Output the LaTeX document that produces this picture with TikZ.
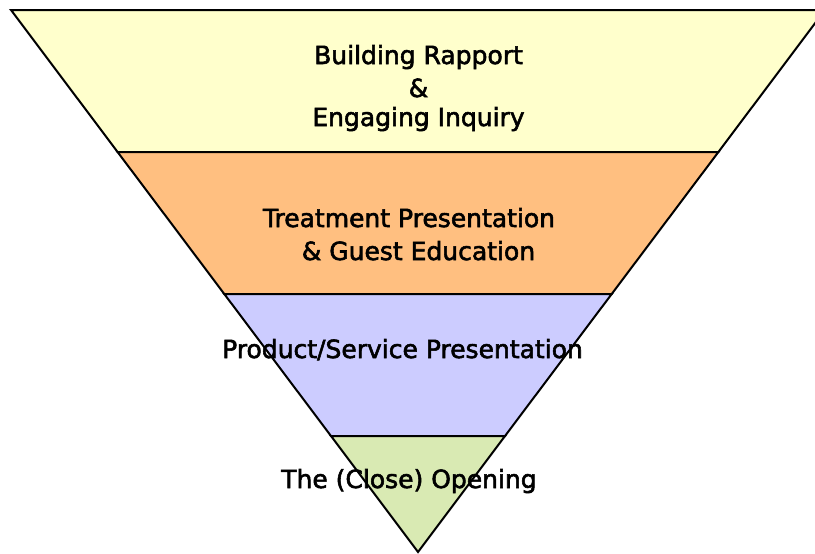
\documentclass[tikz,border=0pt]{standalone}
\usepackage{fontspec}
\setmainfont{DejaVu Sans}
\newfontfamily\funnelfont{DejaVu Sans}[FakeBold=2.2]
\definecolor{rapport}{HTML}{FFFFCC}
\definecolor{treatment}{HTML}{FFBF80}
\definecolor{product}{HTML}{CCCCFF}
\definecolor{closing}{HTML}{D9EAB3}

\begin{document}
\begin{tikzpicture}[x = 1pt, y = -1pt, line width = 2pt,
                        band/.style = {draw = black, line join = miter},
                        caption/.style = {anchor = base, inner sep = 0pt, font = \funnelfont\fontsize{25}{29}\selectfont}]
      \useasboundingbox (0, 0) rectangle (815, 554);
      \clip (0, 0) rectangle (815, 554);

      \coordinate (tl) at (11, 10);
      \coordinate (tr) at (825, 10);
      \coordinate (l1) at (117.6, 152);
      \coordinate (r1) at (718.4, 152);
      \coordinate (l2) at (224.3, 294);
      \coordinate (r2) at (611.7, 294);
      \coordinate (l3) at (331, 436);
      \coordinate (r3) at (505, 436);
      \coordinate (apex) at (418, 552);

      \filldraw [band, fill = rapport] (tl) -- (tr) -- (r1) -- (l1) -- cycle;
      \filldraw [band, fill = treatment] (l1) -- (r1) -- (r2) -- (l2) -- cycle;
      \filldraw [band, fill = product] (l2) -- (r2) -- (r3) -- (l3) -- cycle;
      \filldraw [band, fill = closing] (l3) -- (r3) -- (apex) -- cycle;

      \node [caption] (t1) at (418.5, 64){Building Rapport};
      \node [caption] (t2) at (418.5, 97){\&};
      \node [caption] (t3) at (418.5, 126){Engaging Inquiry};

      \node [caption] (t4) at (409, 227){Treatment Presentation};
      \node [caption] (t5) at (418.5, 260){\& Guest Education};

      \node [caption] (t6) at (402.5, 358){Product/Service Presentation};

      \node [caption] (t7) at (409, 488){The (Close) Opening};

      \end{tikzpicture}
\end{document}
